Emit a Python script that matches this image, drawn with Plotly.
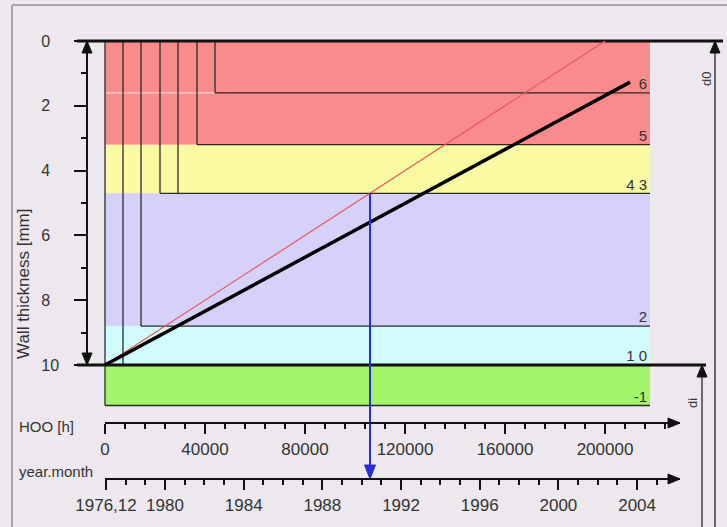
import plotly.graph_objects as go

W, H = 727, 527

# ---------------- data ----------------
band_edges_mm = [0.0, 3.2, 4.7, 8.8, 10.0, 11.25]
band_colors = ['#f98b8c', '#fafaa2', '#d5d1f9', '#d2fcfc', '#a2f46c']
band_end_hoo = 218000

step_hoo = [7200, 14400, 22000, 29200, 36800, 44000]
step_depth_mm = [10.0, 8.8, 4.7, 4.7, 3.2, 1.6]

level_mm = [1.6, 3.2, 4.7, 8.8, 11.25]
level_start_hoo = [44000, 36800, 22000, 14400, 0]

label_mm = [1.6, 3.2, 4.7, 8.8, 10.0, 11.25]
label_text = ['6', '5', '4 3', '2', '1 0', '-1']

red_hoo = [0, 200000]
red_mm = [10.0, 0.0]
black_hoo = [0, 210000]
black_mm = [10.0, 1.27]
cross_level_mm = 4.7

wall_tickvals = [0, 2, 4, 6, 8, 10]
wall_minor = [1, 3, 5, 7, 9]
hoo_dtick = 40000
hoo_minor_dtick = 8000
year_tickvals = [1977, 1980, 1984, 1988, 1992, 1996, 2000, 2004]
year_ticktext = ['1976,12', '1980', '1984', '1988', '1992', '1996', '2000', '2004']
year_minor = [y for y in range(1978, 2006) if y not in year_tickvals]

# ---------------- layout geometry (pixels) ----------------
X0_PX, PX_PER_HOO = 105, 0.0025
Y0_PX, PX_PER_MM = 41, 32.4
YEAR0, YEAR0_PX, PX_PER_YEAR = 1977, 106, 19.67
HOO_AXIS_PX, YEAR_AXIS_PX = 423, 479
AXIS_LEFT_PX, AXIS_RIGHT_PX = 105, 680


def hoo_at(px):
    return (px - X0_PX) / PX_PER_HOO


def mm_at(py):
    return (py - Y0_PX) / PX_PER_MM


def year_at(px):
    return YEAR0 + (px - YEAR0_PX) / PX_PER_YEAR


def arrowhead(tip_px, direction, length=12, width=10):
    x, y = tip_px
    if direction == 'up':
        pts = [(x, y), (x - width / 2, y + length), (x + width / 2, y + length)]
    elif direction == 'down':
        pts = [(x, y), (x - width / 2, y - length), (x + width / 2, y - length)]
    else:  # right
        pts = [(x, y), (x - length, y - width / 2), (x - length, y + width / 2)]
    pts.append(pts[0])
    return [hoo_at(p[0]) for p in pts], [mm_at(p[1]) for p in pts]


def px_of_hoo(h):
    return X0_PX + h * PX_PER_HOO


def px_of_mm(m):
    return Y0_PX + m * PX_PER_MM


FONT = 'Liberation Sans, Arial, sans-serif'
INK = '#2a2a2a'
fig = go.Figure()

# bands
for top, bot, col in zip(band_edges_mm[:-1], band_edges_mm[1:], band_colors):
    fig.add_trace(go.Scatter(
        x=[0, band_end_hoo, band_end_hoo, 0, 0], y=[top, top, bot, bot, top],
        mode='lines', fill='toself', fillcolor=col, line=dict(width=0),
        hoverinfo='skip', showlegend=False))

# faint light line at first level on the left part
fig.add_trace(go.Scatter(x=[0, level_start_hoo[0]], y=[level_mm[0], level_mm[0]], mode='lines',
                         line=dict(color='rgba(255,255,255,0.6)', width=1.2),
                         hoverinfo='skip', showlegend=False))

# step lines
xs, ys = [0, 0, None], [band_edges_mm[0], band_edges_mm[-1], None]
for h, d in zip(step_hoo, step_depth_mm):
    xs += [h, h, None]
    ys += [band_edges_mm[0], d, None]
for m, h0 in zip(level_mm, level_start_hoo):
    xs += [h0, band_end_hoo, None]
    ys += [m, m, None]
fig.add_trace(go.Scatter(x=xs, y=ys, mode='lines', line=dict(color=INK, width=1.3),
                         hoverinfo='skip', showlegend=False))

# level labels
fig.add_trace(go.Scatter(x=[hoo_at(647)] * len(label_mm), y=label_mm, text=label_text,
                         mode='text', textposition='top left',
                         textfont=dict(family=FONT, size=15, color='#333333'),
                         hoverinfo='skip', showlegend=False))

# thick reference lines at outer (0) and inner (10) wall
fig.add_trace(go.Scatter(x=[hoo_at(77), hoo_at(723), None, hoo_at(77), hoo_at(706)],
                         y=[band_edges_mm[0], band_edges_mm[0], None, 10.0, 10.0],
                         mode='lines', line=dict(color='#111111', width=3),
                         hoverinfo='skip', showlegend=False))

# right-hand dimension lines d0 / di
d0_px, di_px = 715, 702
fig.add_trace(go.Scatter(x=[hoo_at(d0_px), hoo_at(d0_px), None, hoo_at(di_px), hoo_at(di_px)],
                         y=[0.0, mm_at(H + 5), None, 10.0, mm_at(H + 5)],
                         mode='lines', line=dict(color='#333333', width=1.4),
                         hoverinfo='skip', showlegend=False))

# erosion lines
fig.add_trace(go.Scatter(x=red_hoo, y=red_mm, mode='lines',
                         line=dict(color='#e8585c', width=1.2), hoverinfo='skip', showlegend=False))
fig.add_trace(go.Scatter(x=black_hoo, y=black_mm, mode='lines',
                         line=dict(color='#000000', width=3.5), hoverinfo='skip', showlegend=False))

# blue arrow from intersection of red line with level 4.7 down to the year axis
cross_hoo = red_hoo[0] + (red_mm[0] - cross_level_mm) / (red_mm[0] - red_mm[1]) * (red_hoo[1] - red_hoo[0])
cx = px_of_hoo(cross_hoo)
fig.add_trace(go.Scatter(x=[cross_hoo, cross_hoo], y=[cross_level_mm, mm_at(YEAR_AXIS_PX - 10)],
                         mode='lines', line=dict(color='#2b2bd8', width=2),
                         hoverinfo='skip', showlegend=False))
ax_, ay_ = arrowhead((cx, YEAR_AXIS_PX), 'down', 14, 11)
fig.add_trace(go.Scatter(x=ax_, y=ay_, mode='lines', fill='toself', fillcolor='#2b2bd8',
                         line=dict(color='#2b2bd8', width=1), hoverinfo='skip', showlegend=False))

# arrowheads (black)
heads = [((87, px_of_mm(0)), 'up'), ((87, px_of_mm(10)), 'down'),
         ((d0_px, px_of_mm(0)), 'up'), ((di_px, px_of_mm(10)), 'up'),
         ((AXIS_RIGHT_PX, HOO_AXIS_PX), 'right'), ((AXIS_RIGHT_PX, YEAR_AXIS_PX), 'right')]
for tip, d in heads:
    hx, hy = arrowhead(tip, d, 12, 10)
    fig.add_trace(go.Scatter(x=hx, y=hy, mode='lines', fill='toself', fillcolor='#111111',
                             line=dict(color='#111111', width=1), hoverinfo='skip', showlegend=False))

# dummy traces so that the extra axes get drawn
for xa, ya in [('x', 'y2'), ('x2', 'y'), ('x3', 'y')]:
    fig.add_trace(go.Scatter(x=[None], y=[None], xaxis=xa, yaxis=ya, mode='markers',
                             hoverinfo='skip', showlegend=False))

tickfont = dict(family=FONT, size=17, color='#333333')
fig.update_layout(
    width=W, height=H, margin=dict(l=0, r=0, t=0, b=0, pad=0, autoexpand=False),
    paper_bgcolor='#ece8ee', plot_bgcolor='rgba(0,0,0,0)',
    hovermode=False, showlegend=False,
    xaxis=dict(domain=[0, 1], range=[hoo_at(0), hoo_at(W)], visible=False, fixedrange=True,
               automargin=False),
    yaxis=dict(domain=[0, 1], range=[mm_at(H), mm_at(0)], visible=False, fixedrange=True,
               automargin=False),
    yaxis2=dict(domain=[1 - px_of_mm(10) / H, 1 - px_of_mm(0) / H], range=[10, 0],
                anchor='free', position=87 / W, side='left', automargin=False,
                showline=True, linecolor='#111111', linewidth=1.5,
                ticks='outside', ticklen=12, tickwidth=1.5, tickcolor='#111111',
                tickmode='array', tickvals=wall_tickvals,
                ticktext=[str(v) + ('\u2007' if v < 10 else '') for v in wall_tickvals],
                minor=dict(tickmode='array', tickvals=wall_minor, ticks='outside', ticklen=5,
                           tickwidth=1.5, tickcolor='#111111'),
                ticklabelstandoff=12,
                tickfont=dict(family=FONT, size=16, color='#333333'),
                showgrid=False, zeroline=False, fixedrange=True),
    xaxis2=dict(domain=[AXIS_LEFT_PX / W, AXIS_RIGHT_PX / W],
                range=[hoo_at(AXIS_LEFT_PX), hoo_at(AXIS_RIGHT_PX)],
                anchor='free', position=1 - HOO_AXIS_PX / H, side='bottom', automargin=False,
                showline=True, linecolor='#111111', linewidth=1.5,
                ticks='outside', ticklen=10, tickwidth=1.5, tickcolor='#111111',
                tickmode='linear', tick0=0, dtick=hoo_dtick, tickformat='d',
                minor=dict(dtick=hoo_minor_dtick, tick0=0, ticks='outside', ticklen=5,
                           tickwidth=1.5, tickcolor='#111111'),
                ticklabelstandoff=1, tickfont=tickfont,
                showgrid=False, zeroline=False, fixedrange=True),
    xaxis3=dict(domain=[AXIS_LEFT_PX / W, AXIS_RIGHT_PX / W],
                range=[year_at(AXIS_LEFT_PX), year_at(AXIS_RIGHT_PX)],
                anchor='free', position=1 - YEAR_AXIS_PX / H, side='bottom', automargin=False,
                showline=True, linecolor='#111111', linewidth=1.5,
                ticks='outside', ticklen=10, tickwidth=1.5, tickcolor='#111111',
                tickmode='array', tickvals=year_tickvals, ticktext=year_ticktext,
                minor=dict(tickmode='array', tickvals=year_minor, ticks='outside', ticklen=5,
                           tickwidth=1.5, tickcolor='#111111'),
                ticklabelstandoff=1, tickfont=tickfont,
                showgrid=False, zeroline=False, fixedrange=True),
    shapes=[
        dict(type='line', xref='paper', yref='paper', x0=12 / W, x1=1, y0=1 - 5 / H, y1=1 - 5 / H,
             line=dict(color='#a8a5aa', width=2)),
        dict(type='line', xref='paper', yref='paper', x0=12 / W, x1=12 / W, y0=0, y1=1 - 5 / H,
             line=dict(color='#a8a5aa', width=2)),
    ],
    annotations=[
        dict(text='Wall thickness [mm]', x=23 / W, y=1 - 284 / H, xref='paper', yref='paper',
             xanchor='center', yanchor='middle', textangle=-90, showarrow=False,
             font=dict(family=FONT, size=17, color='#333333')),
        dict(text='HOO [h]', x=17 / W, y=1 - 426 / H, xref='paper', yref='paper',
             xanchor='left', yanchor='middle', showarrow=False,
             font=dict(family=FONT, size=15, color='#333333')),
        dict(text='year.month', x=17 / W, y=1 - 471 / H, xref='paper', yref='paper',
             xanchor='left', yanchor='middle', showarrow=False,
             font=dict(family=FONT, size=15, color='#333333')),
        dict(text='d0', x=706 / W, y=1 - 79 / H, xref='paper', yref='paper',
             xanchor='center', yanchor='middle', textangle=-90, showarrow=False,
             font=dict(family=FONT, size=13, color='#333333')),
        dict(text='di', x=692 / W, y=1 - 403 / H, xref='paper', yref='paper',
             xanchor='center', yanchor='middle', textangle=-90, showarrow=False,
             font=dict(family=FONT, size=13, color='#333333')),
    ],
)

fig.write_html('out.html', config={'displayModeBar': False},
               post_script="document.body.style.margin='0';")
